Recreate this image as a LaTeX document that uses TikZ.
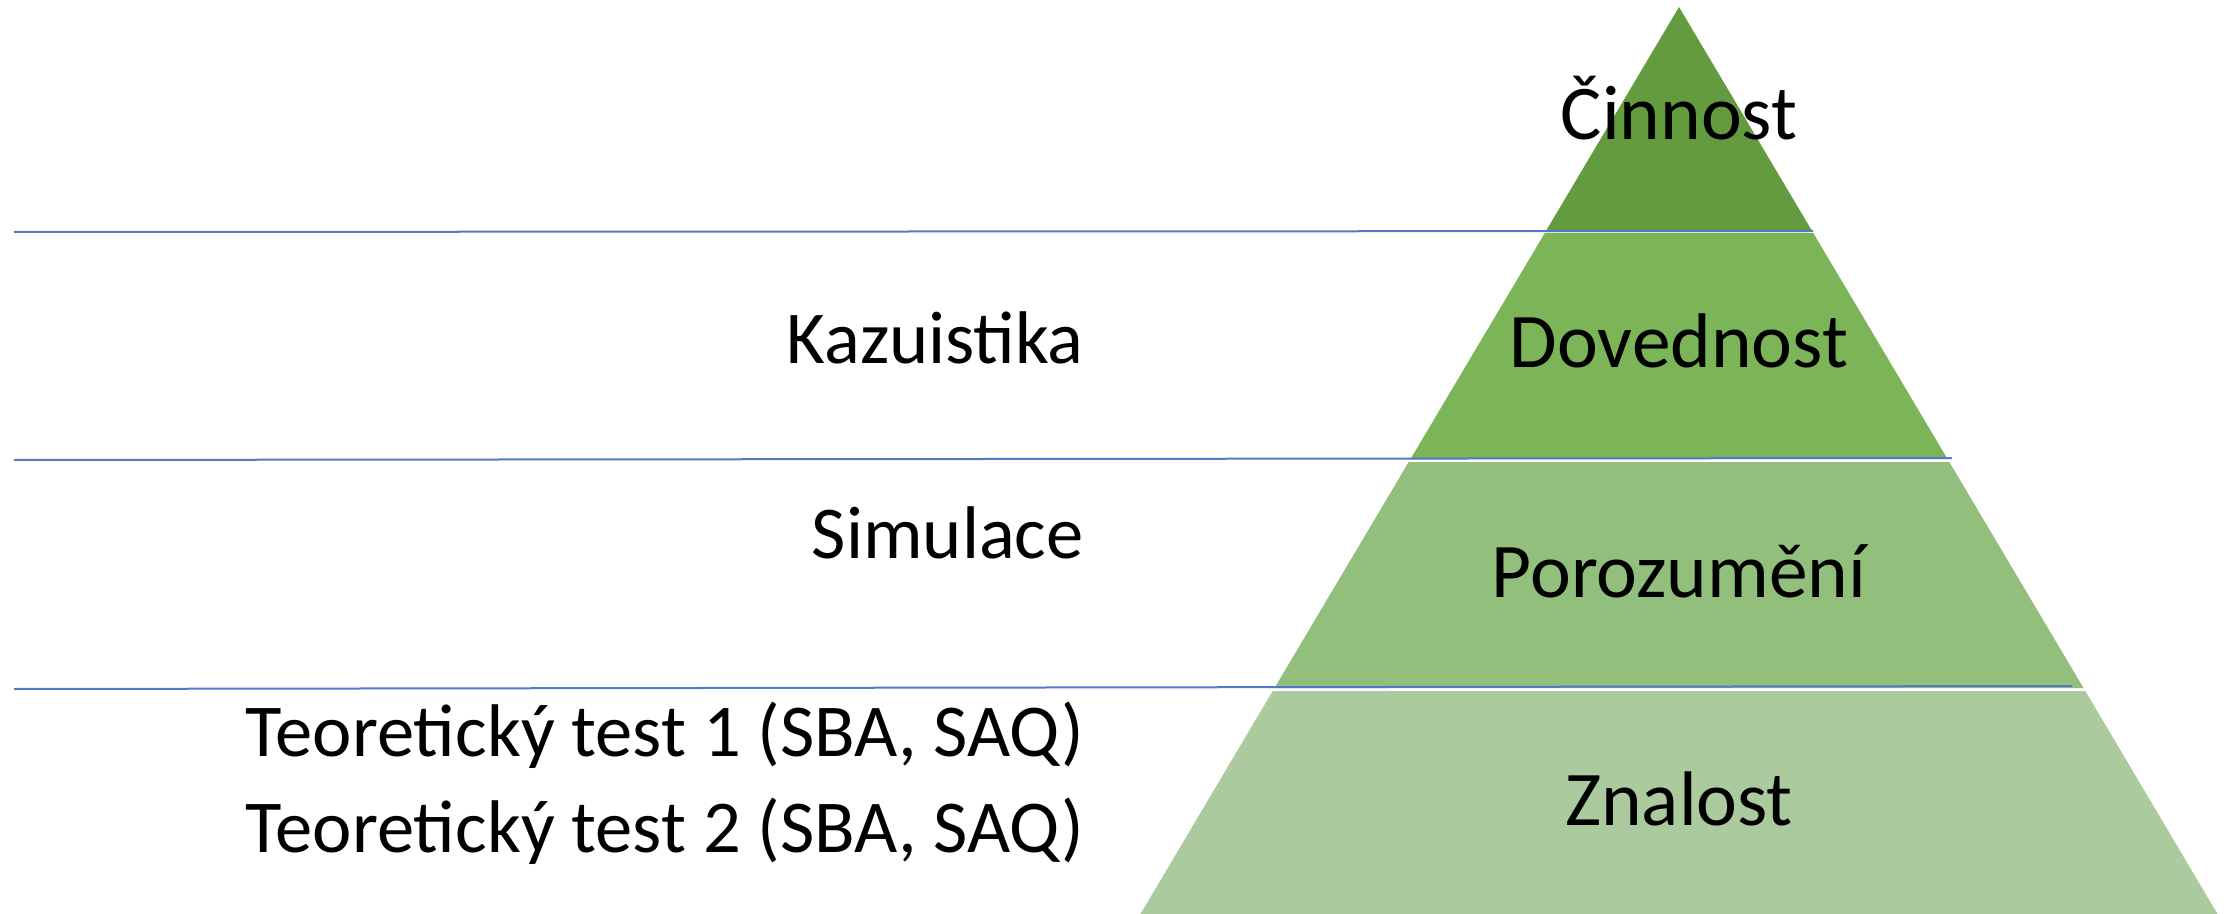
\documentclass[tikz,border=0pt]{standalone}
\usepackage{fontspec}
\setmainfont{Carlito}
\usepackage{xcolor}
\usepackage{tikz}
\usetikzlibrary{positioning}

\definecolor{levelA}{RGB}{99,155,62}
\definecolor{levelB}{RGB}{124,180,88}
\definecolor{levelC}{RGB}{147,191,124}
\definecolor{levelD}{RGB}{171,202,157}
\definecolor{rule}{RGB}{82,122,200}

\begin{document}
\begin{tikzpicture}[
    x=0.5pt, y=-0.5pt,
    layer/.style={draw=none},
    level/.style={anchor=base, font=\fontsize{38.7}{46}\selectfont, inner sep=0pt},
    method/.style={anchor=base east, font=\fontsize{37.3}{44}\selectfont, inner sep=0pt},
    divider/.style={draw=rule, line width=1pt}
]
    \useasboundingbox (0,0) rectangle (2226,914);
    \clip (0,0) rectangle (2226,914);

    % pyramid layers
    \fill[layer, levelA] (1679,7) -- (1811.5,230) -- (1546.5,230) -- cycle;
    \fill[layer, levelB] (1544.8,233) -- (1813.2,233) -- (1947.5,459) -- (1410.5,459) -- cycle;
    \fill[layer, levelC] (1408.7,462) -- (1949.3,462) -- (2083.5,688) -- (1274.5,688) -- cycle;
    \fill[layer, levelD] (1272.7,691) -- (2085.3,691) -- (2227,930) -- (1131,930) -- cycle;

    % dividers
    \coordinate (d1l) at (14,232);
    \coordinate (d1r) at (1813,231);
    \coordinate (d2l) at (14,460);
    \coordinate (d2r) at (1952,458);
    \coordinate (d3l) at (14,689);
    \coordinate (d3r) at (2072,686);
    \draw[divider] (d1l) -- (d1r);
    \draw[divider] (d2l) -- (d2r);
    \draw[divider] (d3l) -- (d3r);

    \node[level] (cinnost) at (1679,140) {Činnost};
    \node[level] (dovednost) at (1679,368) {Dovednost};
    \node[level] (porozumeni) at (1679,597) {Porozumění};
    \node[level] (znalost) at (1679,825) {Znalost};

    \node[method] (kazuistika) at (1084,364) {Kazuistika};
    \node[method] (simulace) at (1084,558) {Simulace};
    \node[method] (test1) at (1084,756) {Teoretický test 1 (SBA, SAQ)};
    \node[method] (test2) at (1084,852) {Teoretický test 2 (SBA, SAQ)};

\end{tikzpicture}
\end{document}
